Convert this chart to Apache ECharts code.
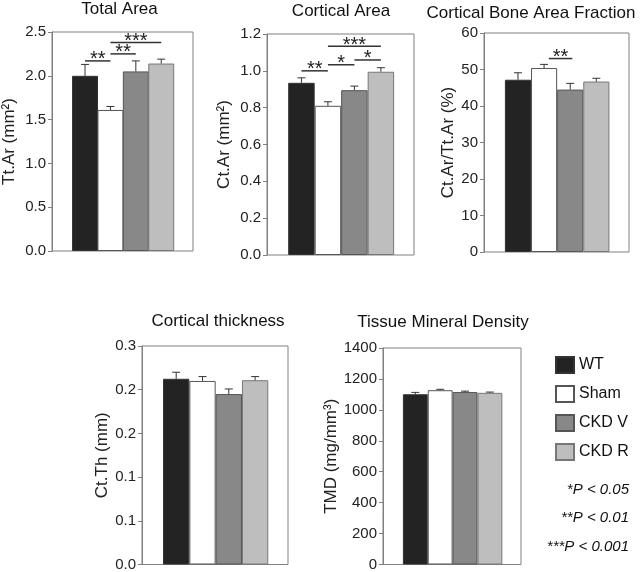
<!DOCTYPE html>
<html><head><meta charset="utf-8">
<script src="https://cdn.jsdelivr.net/npm/echarts@6/dist/echarts.min.js"></script>
<style>html,body{margin:0;padding:0;background:#fff}#c{width:642px;height:572px}</style>
</head><body><div id="c"></div>
<script>
// ---- data ----
const categories = ['WT', 'Sham', 'CKD V', 'CKD R'];

const totalArea = [2.00, 1.61, 2.05, 2.14];
const totalAreaErr = [0.13, 0.04, 0.12, 0.05];
const corticalArea = [0.935, 0.81, 0.895, 0.995];
const corticalAreaErr = [0.027, 0.022, 0.022, 0.022];
const boneAreaFraction = [47.2, 50.4, 44.5, 46.7];
const boneAreaFractionErr = [1.9, 1.0, 1.7, 0.9];
const corticalThickness = [0.255, 0.252, 0.234, 0.253];
const corticalThicknessErr = [0.009, 0.006, 0.007, 0.005];
const tissueMineralDensity = [1101, 1127, 1115, 1110];
const tissueMineralDensityErr = [12, 6, 6, 5];

// significance brackets: [from group, to group, y level, stars]
const sigTotalArea = [[0, 1, 2.17, '**'], [1, 2, 2.25, '**'], [1, 3, 2.38, '***']];
const sigCorticalArea = [[0, 1, 1.0, '**'], [1, 2, 1.033, '*'], [2, 3, 1.059, '*'], [1, 3, 1.133, '***']];
const sigBoneAreaFraction = [[1.18, 2.08, 53, '**']];

const panelTitles = ['Total Area', 'Cortical Area', 'Cortical Bone Area Fraction', 'Cortical thickness', 'Tissue Mineral Density'];
const yAxisNames = ['Tt.Ar (mm²)', 'Ct.Ar (mm²)', 'Ct.Ar/Tt.Ar (%)', 'Ct.Th (mm)', 'TMD (mg/mm³)'];
const pValueNotes = ['*P < 0.05', '**P < 0.01', '***P < 0.001'];

// ---- styles / layout ----
const FONT = "'Liberation Sans', Arial, Helvetica, sans-serif";
const groupColors = ['#232323', '#ffffff', '#888888', '#bebebf'];
const groupBorders = ['#333333', '#555555', '#555555', '#777777'];
const X_MIN = -1.3, X_MAX = 4.25;

const panels = [
  { values: totalArea, errs: totalAreaErr, sig: sigTotalArea, max: 2.5, interval: 0.5, dec: 1,
    grid: { left: 49, top: 32, width: 144, height: 219 }, titleX: 119.5, titleY: 9.5, nameGap: 34 },
  { values: corticalArea, errs: corticalAreaErr, sig: sigCorticalArea, max: 1.2, interval: 0.2, dec: 1,
    grid: { left: 267, top: 34, width: 147, height: 221 }, titleX: 341, titleY: 11.5, nameGap: 34 },
  { values: boneAreaFraction, errs: boneAreaFractionErr, sig: sigBoneAreaFraction, max: 60, interval: 10, dec: 0,
    grid: { left: 484, top: 33, width: 145, height: 219 }, titleX: 531, titleY: 13.5, nameGap: 27 },
  { values: corticalThickness, errs: corticalThicknessErr, sig: [], max: 0.3, interval: 0.06, dec: 1,
    grid: { left: 142, top: 346, width: 146, height: 220 }, titleX: 218, titleY: 321.5, nameGap: 29 },
  { values: tissueMineralDensity, errs: tissueMineralDensityErr, sig: [], max: 1400, interval: 200, dec: 0,
    grid: { left: 383, top: 348, width: 138, height: 218 }, titleX: 443, titleY: 322.5, nameGap: 41 }
];

const grids = [], xAxes = [], yAxes = [], series = [], graphics = [];

panels.forEach((p, i) => {
  grids.push(Object.assign({ show: true, borderColor: '#808080', borderWidth: 1, backgroundColor: 'transparent' }, p.grid));
  xAxes.push({ type: 'value', gridIndex: i, min: X_MIN, max: X_MAX, show: false });
  yAxes.push({
    type: 'value', gridIndex: i, min: 0, max: p.max, interval: p.interval,
    name: yAxisNames[i], nameLocation: 'middle', nameGap: p.nameGap, nameRotate: 90,
    nameTextStyle: { fontSize: 17, color: '#222', fontFamily: FONT },
    axisLine: { show: true, onZero: false, lineStyle: { color: '#808080', width: 1 } },
    axisTick: { show: true, length: 4, inside: false, lineStyle: { color: '#808080' } },
    splitLine: { show: false },
    axisLabel: { fontSize: 15, color: '#222', margin: 6, fontFamily: FONT,
      formatter: v => Number(v).toFixed(p.dec) }
  });
  const bw = p.grid.width / (X_MAX - X_MIN);
  categories.forEach((c, g) => {
    series.push({
      type: 'bar', name: c, xAxisIndex: i, yAxisIndex: i,
      data: [[g, p.values[g]]], barWidth: bw, barGap: '-100%',
      itemStyle: { color: groupColors[g], borderColor: groupBorders[g], borderWidth: 1 },
      emphasis: { disabled: true }, silent: true, animation: false
    });
  });
  // error bars (upper whisker)
  series.push({
    type: 'custom', xAxisIndex: i, yAxisIndex: i, silent: true, animation: false, z: 5,
    data: p.values.map((v, g) => [g, v, p.errs[g]]),
    encode: { x: 0, y: 1 },
    renderItem: (params, api) => {
      const base = api.coord([api.value(0), api.value(1)]);
      const top = api.coord([api.value(0), api.value(1) + api.value(2)]);
      const st = { stroke: '#333', lineWidth: 1 };
      return { type: 'group', children: [
        { type: 'line', shape: { x1: base[0], y1: base[1], x2: top[0], y2: top[1] }, style: st },
        { type: 'line', shape: { x1: top[0] - 4, y1: top[1], x2: top[0] + 4, y2: top[1] }, style: st }
      ] };
    }
  });
  if (p.sig.length) {
    const sig = p.sig;
    series.push({
      type: 'custom', xAxisIndex: i, yAxisIndex: i, silent: true, animation: false, z: 6,
      data: sig.map(s => [s[0], s[1], s[2]]),
      encode: { x: [0, 1], y: 2 },
      renderItem: (params, api) => {
        const a = api.coord([api.value(0), api.value(2)]);
        const b = api.coord([api.value(1), api.value(2)]);
        return { type: 'group', children: [
          { type: 'line', shape: { x1: a[0], y1: a[1], x2: b[0], y2: a[1] }, style: { stroke: '#333', lineWidth: 1.5 } },
          { type: 'text', x: (a[0] + b[0]) / 2, y: a[1] + 9,
            style: { text: sig[params.dataIndex][3], fontSize: 20, fontFamily: FONT, fill: '#222', align: 'center', verticalAlign: 'bottom' } }
        ] };
      }
    });
  }
  graphics.push({ type: 'text', x: p.titleX, y: p.titleY, silent: true,
    style: { text: panelTitles[i], fontSize: 17, fontFamily: FONT, fill: '#111', align: 'center', verticalAlign: 'middle' } });
});

const pNoteY = [490, 518, 546.5];
pValueNotes.forEach((t, k) => {
  graphics.push({ type: 'text', x: 629, y: pNoteY[k], silent: true,
    style: { text: t, fontSize: 15, fontStyle: 'italic', fontFamily: FONT, fill: '#111', align: 'right', verticalAlign: 'middle' } });
});

const chart = echarts.init(document.getElementById('c'), null, { renderer: 'canvas' });
chart.setOption({
  backgroundColor: '#ffffff',
  animation: false,
  grid: grids, xAxis: xAxes, yAxis: yAxes, series: series,
  legend: {
    data: categories, orient: 'vertical', left: 550, top: 351,
    itemWidth: 18, itemHeight: 16, itemGap: 11, icon: 'rect', selectedMode: false,
    textStyle: { fontSize: 16, color: '#111', fontFamily: FONT }
  },
  graphic: graphics
});
</script></body></html>
